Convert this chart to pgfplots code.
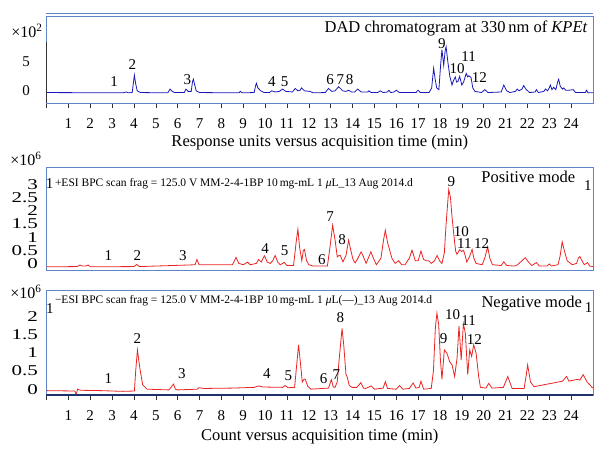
\documentclass[border=0pt]{standalone}
\usepackage{graphicx}
\usepackage{pgfplots}
\pgfplotsset{compat=1.18}
\usepackage{fontspec}
\setmainfont{Liberation Serif}
\definecolor{frame}{RGB}{95,135,200}
\definecolor{navyline}{RGB}{30,50,110}
\definecolor{dadblue}{RGB}{25,25,185}
\definecolor{msred}{RGB}{235,35,35}
\newcommand{\wy}[1]{\scalebox{1.4}[1]{#1}}
\tikzset{
  peak/.style={font=\fontsize{15}{17}\selectfont, inner sep=0pt},
  ann/.style={font=\fontsize{16.5}{18}\selectfont, inner sep=0pt},
}
\pgfplotsset{
  chrom/.style={
    scale only axis, width=546.5pt, xmin=0, xmax=25, clip=false,
    axis line style={draw=frame, line width=0.9pt},
    tick style={black!80, line width=0.6pt},
    /pgf/number format/assume math mode=true,
    ticklabel style={font=\fontsize{15}{17}\selectfont},
    ytick style={draw=none},
    tick pos=left, tick align=outside, major tick length=5pt,
    xtick={0,1,2,3,4,5,6,7,8,9,10,11,12,13,14,15,16,17,18,19,20,21,22,23,24},
    xticklabels={,1,2,3,4,5,6,7,8,9,10,11,12,13,14,15,16,17,18,19,20,21,22,23,24},
    xticklabel style={yshift=-7pt},
    xlabel style={font=\fontsize{16.5}{18}\selectfont, anchor=center},
  },
}
\begin{document}
\begin{tikzpicture}
\useasboundingbox (0pt,0pt) rectangle (605pt,457pt);
% ---------------- Top: DAD ----------------
\begin{axis}[chrom, at={(46.5pt,354pt)}, anchor=south west, height=87pt,
  ymin=-2.1, ymax=12.9, ytick={0,5}, yticklabels={0,5},
  yticklabel style={xshift=-8pt},
  xlabel={Response units versus acquisition time (min)},
  xlabel style={at={(axis description cs:0.5,-0.46)}}]
\addplot[dadblue, line width=0.8pt] coordinates {
(0,-0.3) (3.5,-0.35) (3.65,-0.2) (3.75,-0.35) (3.92,-0.3) (3.98,1.5) (4.02,2.7) (4.08,1.2) (4.15,0.0) (4.3,-0.3) (5.55,-0.35) (5.65,0.3) (5.72,0.0) (5.85,-0.3) (6.3,-0.3) (6.38,0.3) (6.48,-0.1) (6.62,-0.1) (6.68,1.6) (6.72,2.0) (6.78,1.0) (6.85,0.0) (7.0,-0.3) (8.8,-0.35) (8.87,-0.1) (8.95,-0.35) (9.5,-0.3) (9.56,0.8) (9.6,1.3) (9.67,0.5) (9.8,0.0) (9.95,-0.3) (10.2,-0.3) (10.3,0.0) (10.45,-0.2) (10.65,-0.1) (10.8,0.3) (10.95,-0.1) (11.25,-0.2) (11.38,0.4) (11.5,0.0) (11.6,0.1) (11.67,0.5) (11.8,0.0) (12.05,-0.1) (12.2,-0.35) (12.75,-0.3) (12.9,0.4) (13.05,-0.1) (13.2,0.0) (13.36,0.7) (13.55,0.0) (13.7,-0.1) (13.82,0.1) (13.95,-0.2) (14.1,-0.2) (14.23,0.3) (14.4,-0.2) (14.7,-0.2) (14.75,0.0) (14.85,-0.3) (15.15,-0.3) (15.27,0.0) (15.4,-0.3) (15.6,-0.2) (15.66,0.1) (15.75,-0.3) (15.9,-0.2) (16.0,0.1) (16.15,-0.3) (16.9,-0.3) (17.0,0.1) (17.1,-0.3) (17.5,-0.3) (17.62,0.5) (17.71,3.9) (17.78,2.0) (17.85,0.5) (17.95,0.2) (18.03,4.5) (18.09,7.1) (18.17,4.4) (18.24,7.0) (18.28,7.6) (18.36,5.0) (18.45,2.5) (18.55,1.0) (18.62,1.8) (18.7,2.4) (18.76,1.5) (18.82,1.6) (18.9,2.5) (19.0,1.0) (19.08,1.5) (19.2,3.0) (19.27,2.4) (19.32,2.6) (19.42,2.3) (19.5,0.5) (19.6,-0.1) (19.9,-0.3) (20.05,0.2) (20.2,-0.3) (20.8,-0.2) (20.92,1.0) (21.05,0.0) (21.2,-0.3) (21.45,-0.1) (21.53,0.3) (21.62,0.0) (21.75,0.3) (21.83,0.9) (21.95,0.2) (22.1,-0.3) (22.35,-0.2) (22.41,0.2) (22.5,-0.3) (22.75,-0.1) (22.83,0.3) (22.92,0.0) (23.0,0.5) (23.05,1.0) (23.12,0.2) (23.2,0.6) (23.3,0.2) (23.38,1.5) (23.43,2.0) (23.5,0.8) (23.6,0.3) (23.66,0.5) (23.75,0.1) (23.9,0.1) (24.1,0.2) (24.2,-0.3) (24.65,-0.3) (24.7,0.1) (24.78,-0.35) (25,-0.35)
};
\draw[frame, line width=0.9pt] ([yshift=2.5pt]rel axis cs:0,1) -- ([yshift=2.5pt]rel axis cs:1,1);
\draw[black!80, line width=0.8pt] (axis cs:0,-2.1) -- (axis cs:0,8.4);
\node[peak] at (axis cs:3.09,1.55) {1};
\node[peak] at (axis cs:3.93,4.6) {2};
\node[peak] at (axis cs:6.45,1.85) {3};
\node[peak] at (axis cs:10.31,1.55) {4};
\node[peak] at (axis cs:10.89,1.55) {5};
\node[peak] at (axis cs:12.98,1.85) {6};
\node[peak] at (axis cs:13.44,1.85) {7};
\node[peak] at (axis cs:13.87,1.85) {8};
\node[peak] at (axis cs:18.09,8.2) {9};
\node[peak] at (axis cs:18.78,3.9) {10};
\node[peak] at (axis cs:19.31,5.9) {11};
\node[peak] at (axis cs:19.8,2.3) {12};
\node[ann, anchor=east] at (axis cs:24.76,10.76) {DAD chromatogram at 330\,nm of \textit{KPEt}};
\end{axis}
% ---------------- Middle: positive ----------------
\begin{axis}[chrom, at={(46.5pt,187pt)}, anchor=south west, height=103pt,
  ymin=-0.25, ymax=3.66, ytick={0,0.5,1,1.5,2,2.5,3},
  yticklabels={\wy{0},\wy{0.5},\wy{1},\wy{1.5},\wy{2},\wy{2.5},\wy{3}},
  xtick=\empty, xticklabels={}]
\addplot[msred, line width=0.8pt] coordinates {
(0,-0.13) (1.4,-0.12) (1.53,-0.06) (1.65,-0.1) (1.8,-0.1) (1.91,-0.06) (2.0,-0.13) (4.0,-0.12) (4.13,-0.04) (4.25,-0.12) (5.0,-0.1) (6.5,-0.06) (6.8,-0.05) (6.88,0.15) (6.98,-0.05) (8.5,-0.05) (8.6,0.1) (8.67,0.23) (8.8,0.0) (9.0,-0.05) (9.2,0.05) (9.32,-0.05) (9.6,0.0) (9.7,0.15) (9.82,0.05) (9.97,0.29) (10.1,0.05) (10.23,0.0) (10.35,0.1) (10.46,0.3) (10.58,0.05) (10.69,-0.05) (10.8,0.0) (10.87,0.04) (11.0,-0.08) (11.3,-0.08) (11.42,0.8) (11.5,1.3) (11.58,0.6) (11.68,0.1) (11.75,0.5) (11.8,0.53) (11.9,0.1) (12.0,-0.05) (12.2,-0.1) (12.85,-0.1) (12.95,0.5) (13.09,1.45) (13.2,0.9) (13.3,0.25) (13.38,0.3) (13.44,0.3) (13.56,0.06) (13.7,0.3) (13.82,0.88) (13.92,0.5) (14.02,0.15) (14.12,0.02) (14.25,0.2) (14.39,0.44) (14.5,0.25) (14.62,0.0) (14.72,0.2) (14.84,0.44) (14.95,0.2) (15.09,-0.05) (15.3,0.2) (15.42,0.9) (15.5,1.26) (15.6,0.8) (15.7,0.5) (15.8,0.2) (15.95,0.0) (16.11,0.1) (16.25,-0.05) (16.4,-0.05) (16.6,0.2) (16.72,0.5) (16.8,0.3) (16.87,0.1) (17.0,0.1) (17.13,0.47) (17.25,0.15) (17.38,0.1) (17.48,0.1) (17.6,0.0) (17.75,0.1) (17.87,0.3) (17.98,0.1) (18.09,0.0) (18.2,0.4) (18.28,1.5) (18.4,2.8) (18.48,2.5) (18.55,1.77) (18.66,0.88) (18.72,0.45) (18.78,0.35) (18.9,0.52) (19.0,0.45) (19.08,0.5) (19.15,0.3) (19.23,0.05) (19.35,0.25) (19.47,0.53) (19.55,0.2) (19.65,0.0) (19.93,-0.05) (20.05,0.2) (20.18,0.63) (20.28,0.2) (20.4,-0.05) (20.8,-0.08) (20.92,0.06) (21.05,-0.08) (21.4,-0.1) (21.55,-0.05) (21.75,0.1) (21.9,0.22) (22.05,0.05) (22.2,-0.08) (22.41,0.03) (22.55,-0.1) (22.9,-0.1) (23.0,-0.02) (23.1,-0.1) (23.4,-0.05) (23.5,0.3) (23.59,0.82) (23.7,0.45) (23.82,0.1) (24.05,-0.05) (24.25,0.0) (24.33,0.2) (24.4,0.26) (24.5,0.1) (24.6,-0.05) (24.75,0.03) (24.85,-0.1) (25,-0.12)
};
\node[peak] at (axis cs:0.14,3.03) {1};
\node[peak] at (axis cs:2.83,0.28) {1};
\node[peak] at (axis cs:4.16,0.28) {2};
\node[peak] at (axis cs:6.24,0.31) {3};
\node[peak] at (axis cs:10.0,0.57) {4};
\node[peak] at (axis cs:10.89,0.47) {5};
\node[peak] at (axis cs:12.6,0.15) {6};
\node[peak] at (axis cs:12.98,1.77) {7};
\node[peak] at (axis cs:13.52,0.91) {8};
\node[peak] at (axis cs:18.52,3.09) {9};
\node[peak] at (axis cs:18.98,1.2) {10};
\node[peak] at (axis cs:19.12,0.76) {11};
\node[peak] at (axis cs:19.9,0.76) {12};
\node[peak] at (axis cs:24.76,2.97) {1};
\node[ann, anchor=east] at (axis cs:24.2,3.28) {Positive mode};
\node[font=\fontsize{11.5}{13}\selectfont, inner sep=0pt, anchor=west] at (axis cs:0.38,3.03) {+ESI BPC scan frag = 125.0 V MM-2-4-1BP 10\,mg-mL 1 \textit{μ}L\_13 Aug 2014.d};
\end{axis}
% ---------------- Bottom: negative ----------------
\begin{axis}[chrom, at={(46.5pt,62pt)}, anchor=south west, height=105pt,
  ymin=-0.16, ymax=2.73, ytick={0,0.5,1,1.5,2},
  yticklabels={\wy{0},\wy{0.5},\wy{1},\wy{1.5},\wy{2}},
  xlabel={Count versus acquisition time (min)},
  xlabel style={at={(axis description cs:0.5,-0.397)}}]
\addplot[msred, line width=0.8pt] coordinates {
(0,-0.04) (1.3,-0.05) (1.36,-0.15) (1.42,0.0) (1.55,-0.03) (2.5,-0.04) (3.5,-0.06) (4.02,-0.05) (4.08,0.5) (4.16,1.08) (4.22,0.8) (4.28,0.54) (4.4,0.12) (4.6,0.0) (5.6,-0.02) (5.73,0.08) (5.81,0.14) (5.9,0.0) (6.0,-0.02) (6.9,0.0) (6.97,0.04) (7.2,0.02) (8.5,0.03) (9.5,0.05) (9.7,0.09) (9.9,0.06) (10.8,0.05) (10.92,0.1) (11.05,0.04) (11.35,0.05) (11.45,0.7) (11.53,1.22) (11.62,0.7) (11.7,0.2) (11.79,0.28) (11.84,0.27) (11.95,0.08) (12.1,0.0) (12.9,0.03) (13.03,0.26) (13.12,0.06) (13.2,0.05) (13.3,0.2) (13.4,0.9) (13.52,1.67) (13.6,1.2) (13.7,0.4) (13.75,0.35) (13.85,0.1) (13.98,0.05) (14.2,0.05) (14.38,0.18) (14.5,0.03) (14.6,0.02) (14.86,0.09) (15.0,0.0) (15.4,0.03) (15.5,0.21) (15.6,0.02) (16.0,0.0) (16.15,0.1) (16.3,0.0) (16.6,0.02) (16.77,0.17) (16.9,0.03) (17.05,0.05) (17.13,0.22) (17.25,0.0) (17.6,0.02) (17.7,0.5) (17.79,1.7) (17.86,2.09) (17.94,1.78) (18.02,0.81) (18.09,0.27) (18.2,1.08) (18.32,0.99) (18.44,0.76) (18.55,0.67) (18.67,0.35) (18.78,0.85) (18.87,1.74) (18.97,0.8) (19.07,1.8) (19.16,1.54) (19.27,0.4) (19.36,1.08) (19.45,0.9) (19.54,1.22) (19.65,1.0) (19.77,0.35) (19.85,0.05) (20.1,0.03) (20.23,0.16) (20.38,0.03) (20.9,0.05) (21.1,0.35) (21.3,0.02) (21.85,0.02) (21.95,0.4) (22.01,0.67) (22.14,0.2) (22.3,0.07) (23.0,0.15) (23.6,0.22) (23.79,0.35) (23.9,0.22) (24.28,0.27) (24.4,0.25) (24.55,0.4) (24.73,0.2) (24.96,0.05) (25,0.03)
};
\draw[navyline, line width=1.6pt] (rel axis cs:0,0) -- (rel axis cs:1,0);
\node[peak] at (axis cs:0.16,2.23) {1};
\node[peak] at (axis cs:2.83,0.3) {1};
\node[peak] at (axis cs:4.16,1.4) {2};
\node[peak] at (axis cs:6.19,0.42) {3};
\node[peak] at (axis cs:10.08,0.42) {4};
\node[peak] at (axis cs:11.07,0.37) {5};
\node[peak] at (axis cs:12.68,0.28) {6};
\node[peak] at (axis cs:13.26,0.39) {7};
\node[peak] at (axis cs:13.44,1.96) {8};
\node[peak] at (axis cs:18.17,1.38) {9};
\node[peak] at (axis cs:18.58,2.05) {10};
\node[peak] at (axis cs:19.31,1.89) {11};
\node[peak] at (axis cs:19.57,1.38) {12};
\node[peak] at (axis cs:24.8,2.26) {1};
\node[ann, anchor=east] at (axis cs:24.5,2.37) {Negative mode};
\node[font=\fontsize{11.5}{13}\selectfont, inner sep=0pt, anchor=west] at (axis cs:0.38,2.43) {−ESI BPC scan frag = 125.0 V MM-2-4-1BP 10\,mg-mL 1 \textit{μ}L(—)\_13 Aug 2014.d};
\end{axis}
% multiplier labels
\node[font=\fontsize{16}{18}\selectfont, inner sep=0pt] at (27pt,426pt) {×10\textsuperscript{2}};
\node[font=\fontsize{16}{18}\selectfont, inner sep=0pt] at (26pt,298pt) {×10\textsuperscript{6}};
\node[font=\fontsize{16}{18}\selectfont, inner sep=0pt] at (26pt,165pt) {×10\textsuperscript{6}};
\end{tikzpicture}
\end{document}
